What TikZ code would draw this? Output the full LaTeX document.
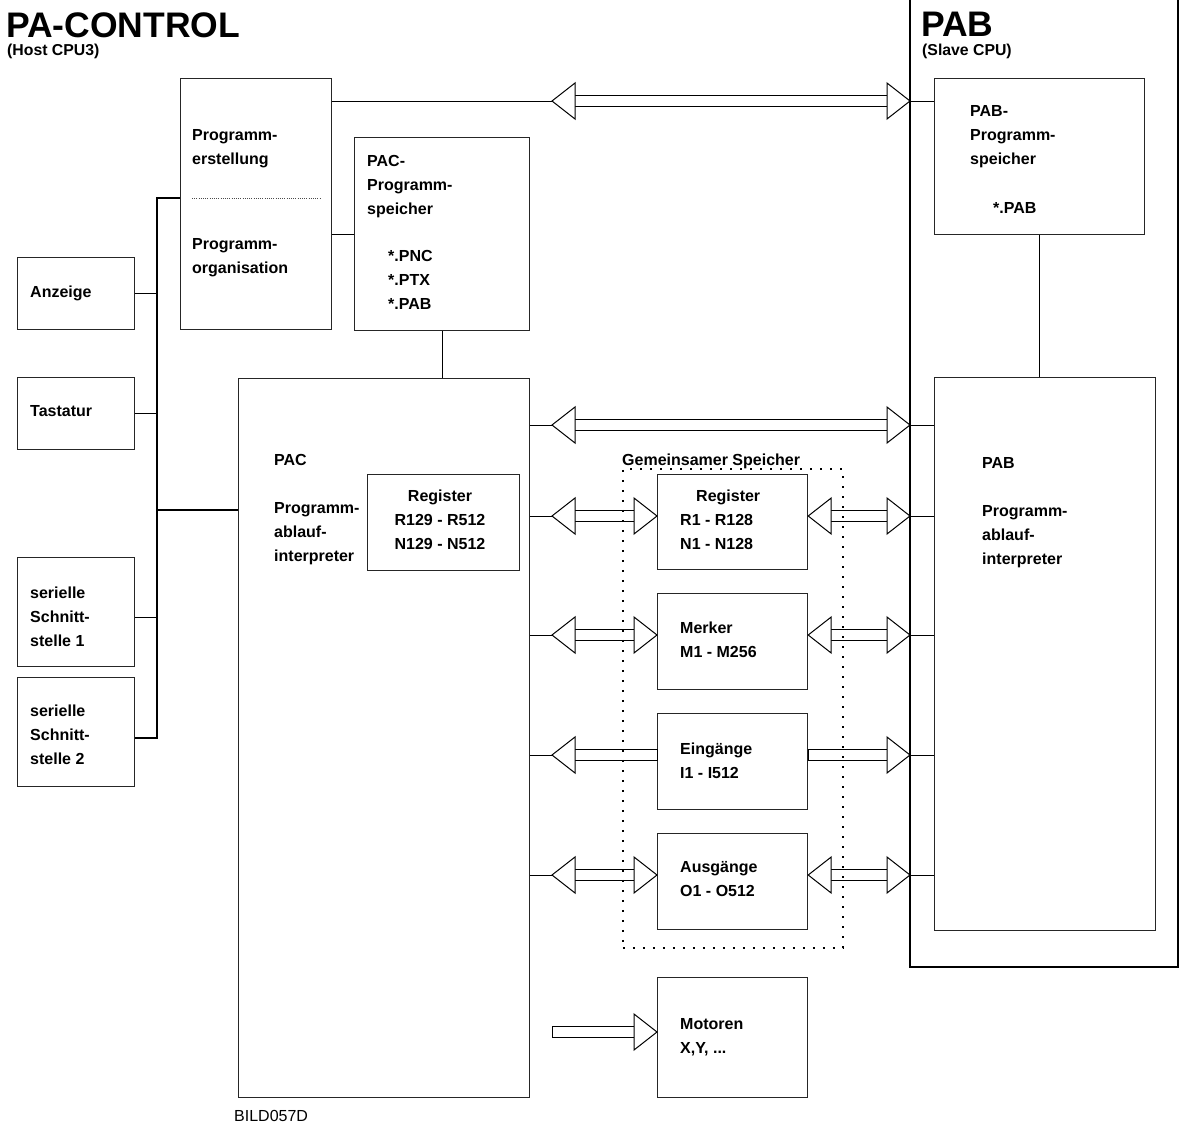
\documentclass[tikz,border=0pt]{standalone}
\usepackage{fontspec}
\setmainfont{Liberation Sans}
\usetikzlibrary{calc}

\tikzset{
  box/.style={draw=black!85, line width=1.2pt, fill=white, anchor=north west, inner sep=0pt},
  % multi-line texts are placed by the baseline of their last line
  txt/.style={anchor=base west, align=left, inner sep=0pt, font=\bfseries\fontsize{16}{24}\selectfont},
  ctxt/.style={anchor=base, align=center, inner sep=0pt, font=\bfseries\fontsize{16}{24}\selectfont},
  link/.style={draw=black, line width=1pt},
  buslink/.style={draw=black, line width=2pt},
  fat/.style={draw=black, line width=1pt, fill=white, line join=miter},
  fatbold/.style={fat, line width=1.8pt},
  shared/.style={draw=black, line width=1.8pt, dash pattern=on 1.8pt off 8.2pt, anchor=north west, inner sep=0pt},
  frame/.style={draw=black, line width=2.5pt},
  bigtitle/.style={anchor=base west, inner sep=0pt, font=\bfseries\fontsize{35.5}{36}\selectfont},
  subtitle/.style={anchor=base west, inner sep=0pt, font=\bfseries\fontsize{15.8}{16}\selectfont},
}

% open arrow heads and hollow shafts (optional argument: shaft style)
\newcommand{\tipL}[1]{\path[fat] (#1) -- ++(23,-18) -- ++(0,36) -- cycle;}
\newcommand{\tipR}[1]{\path[fat] (#1) -- ++(-23,-18) -- ++(0,36) -- cycle;}
\newcommand{\fatboth}[3][fat]{%
  \path[#1] ($(#2)+(22,-5.5)$) rectangle ($(#3)+(-22,5.5)$);
  \tipL{#2}\tipR{#3}}
\newcommand{\fatleft}[2]{%
  \path[fat] ($(#1)+(22,-5.5)$) rectangle ($(#2)+(0,5.5)$);
  \tipL{#1}}
\newcommand{\fatright}[2]{%
  \path[fat] ($(#1)+(0,-5.5)$) rectangle ($(#2)+(-22,5.5)$);
  \tipR{#2}}

\begin{document}
\begin{tikzpicture}[x=1pt, y=-1pt]
\useasboundingbox (0,0) rectangle (1179,1127);

% titles
\node[bigtitle] (title) at (6,37) {PA-CONTROL};
\node[subtitle] (host) at (7,55) {(Host CPU3)};
\node[bigtitle] (pabtitle) at (921,36) {PAB};
\node[subtitle] (slave) at (922,55) {(Slave CPU)};

% PAB frame
\draw[frame] (910,-5) -- (910,967) -- (1178,967) -- (1178,-5);

% boxes
\node[box, minimum width=151pt, minimum height=251pt] (prog) at (180,78) {};
\node[box, minimum width=117pt, minimum height=72pt] (anz) at (17,257) {};
\node[box, minimum width=117pt, minimum height=72pt] (tast) at (17,377) {};
\node[box, minimum width=117pt, minimum height=109pt] (ser1) at (17,557) {};
\node[box, minimum width=117pt, minimum height=109pt] (ser2) at (17,677) {};
\node[box, minimum width=175pt, minimum height=193pt] (pacmem) at (354,137) {};
\node[box, minimum width=291pt, minimum height=719pt] (pac) at (238,378) {};
\node[box, minimum width=152pt, minimum height=96pt] (pacreg) at (367,474) {};
\node[box, minimum width=210pt, minimum height=156pt] (pabmem) at (934,78) {};
\node[box, minimum width=221pt, minimum height=553pt] (pab) at (934,377) {};
\node[box, minimum width=150pt, minimum height=95pt] (reg) at (657,474) {};
\node[box, minimum width=150pt, minimum height=96pt] (merk) at (657,593) {};
\node[box, minimum width=150pt, minimum height=96pt] (ein) at (657,713) {};
\node[box, minimum width=150pt, minimum height=96pt] (aus) at (657,833) {};
\node[box, minimum width=150pt, minimum height=120pt] (mot) at (657,977) {};

% separator inside the programming box
\draw[black!70, line width=0.8pt, dash pattern=on 1pt off 1.2pt] (192,198) -- (320,198);

% texts
\node[txt] (t-anz) at (30,297) {Anzeige};
\node[txt] (t-tast) at (30,416) {Tastatur};
\node[txt] (t-ser1) at (30,646) {serielle\\Schnitt-\\stelle 1};
\node[txt] (t-ser2) at (30,764) {serielle\\Schnitt-\\stelle 2};
\node[txt] (t-erst) at (192,164) {Programm-\\erstellung};
\node[txt] (t-orga) at (192,273) {Programm-\\organisation};
\node[txt] (t-pacmem) at (367,214) {PAC-\\Programm-\\speicher};
\node[txt] (t-pacext) at (388,309) {*.PNC\\*.PTX\\*.PAB};
\node[txt] (t-pac) at (274,561) {PAC\\[24pt]Programm-\\ablauf-\\interpreter};
\node[ctxt] (t-pacreg) at (440,549) {Register\\R129 - R512\\N129 - N512};
\node[txt] (t-pabmem) at (970,164) {PAB-\\Programm-\\speicher};
\node[txt] (t-pabext) at (993,213) {*.PAB};
\node[txt] (t-pab) at (982,564) {PAB\\[24pt]Programm-\\ablauf-\\interpreter};
\node[txt] (t-reg) at (696,501) {Register};
\node[txt] (t-regr) at (680,549) {R1 - R128\\N1 - N128};
\node[txt] (t-merk) at (680,657) {Merker\\M1 - M256};
\node[txt] (t-ein) at (680,778) {Eingänge\\I1 - I512};
\node[txt] (t-aus) at (680,896) {Ausgänge\\O1 - O512};
\node[txt] (t-mot) at (680,1053) {Motoren\\X,Y, ...};
\node[txt] (t-shared) at (622,465) {Gemeinsamer Speicher};
\node[anchor=base west, inner sep=0pt, font=\fontsize{16}{16}\selectfont] (bild) at (234,1121) {BILD057D};

% connector end points
\coordinate (a1) at (552,101);  \coordinate (f1) at (910,101);
\coordinate (a2) at (552,425);  \coordinate (f2) at (910,425);
\coordinate (a3) at (552,516);  \coordinate (f3) at (910,516);
\coordinate (a4) at (552,635);  \coordinate (f4) at (910,635);
\coordinate (a5) at (552,755);  \coordinate (f5) at (910,755);
\coordinate (a6) at (552,875);  \coordinate (f6) at (910,875);
\coordinate (a7) at (552,1032);
\coordinate (bt) at (157,198);
\coordinate (bb) at (157,738);
\coordinate (s1) at (157,617);
\coordinate (pm) at (157,510);

% bus on the host side
\draw[buslink] (prog.west|-bt) -- (bt) -- (bb) -- (ser2.east|-bb);
\draw[link] (anz.east) -- (anz.east-|bt);
\draw[link] (tast.east) -- (tast.east-|bt);
\draw[link] (ser1.east|-s1) -- (s1);
\draw[buslink] (pm) -- (pac.west|-pm);
\draw[link] (pacmem.west-|prog.east) -- (pacmem.west);
\draw[link] (pacmem.south) -- (pacmem.south|-pac.north);
\draw[link] (pabmem.south) -- (pabmem.south|-pab.north);

% links into the wide arrows
\draw[link] (prog.east|-a1) -- (a1);
\draw[link] (f1) -- (pabmem.west|-f1);
\foreach \i in {2,3,4,5,6} {
  \draw[link] (pac.east|-a\i) -- (a\i);
  \draw[link] (f\i) -- (pab.west|-f\i);
}

% wide arrows
\fatboth{a1}{f1}
\fatboth[fatbold]{a2}{f2}
\fatboth{a3}{reg.west|-a3}
\fatboth{reg.east|-f3}{f3}
\fatboth{a4}{merk.west|-a4}
\fatboth{merk.east|-f4}{f4}
\fatleft{a5}{ein.west|-a5}
\fatright{ein.east|-f5}{f5}
\fatboth{a6}{aus.west|-a6}
\fatboth{aus.east|-f6}{f6}
\fatright{a7}{mot.west|-a7}

% shared memory frame
\node[shared, minimum width=220pt, minimum height=479pt] (sharedmem) at (622,468) {};
\end{tikzpicture}
\end{document}
